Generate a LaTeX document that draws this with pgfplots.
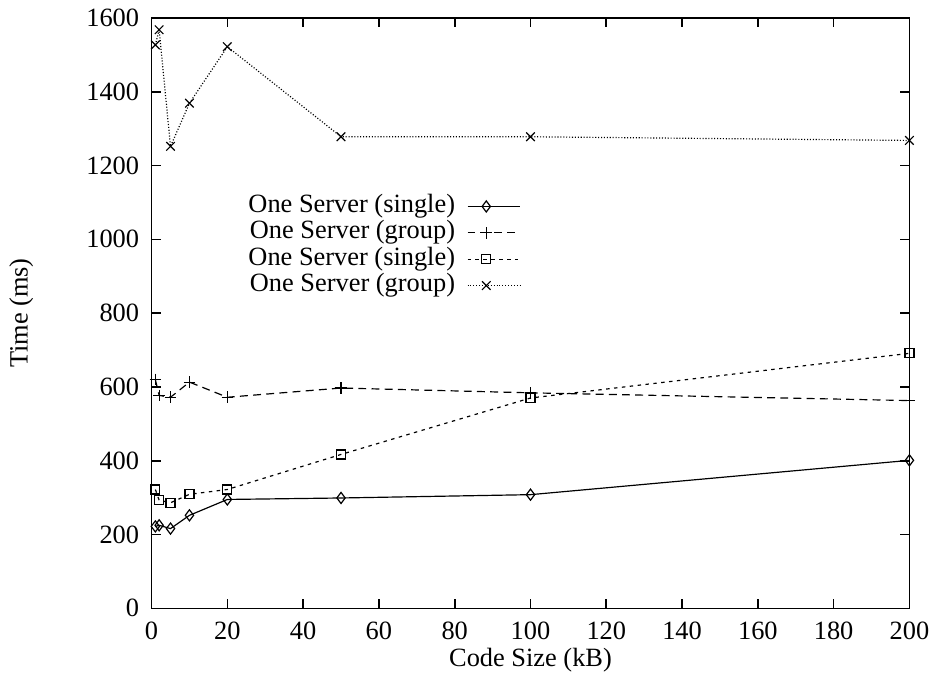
\documentclass[border=0pt]{standalone}
\usepackage{fontspec}
\setmainfont{Liberation Serif}
\usepackage{pgfplots}
\pgfplotsset{compat=1.18}
\begin{document}
\begin{tikzpicture}
\begin{axis}[
  scale only axis,
  width=287.3pt, height=223.8pt,
  xmin=0, xmax=200, ymin=0, ymax=1600,
  xtick={0,20,...,200}, ytick={0,200,...,1600},
  xtick pos=both, ytick pos=both,
  xticklabel pos=left, yticklabel pos=left,
  tick align=inside,
  major tick length=3.5pt,
  minor tick num=0,
  axis line style={line width=0.6pt},
  every tick/.style={line width=0.6pt, black},
  /pgf/number format/assume math mode=true,
  /pgf/number format/1000 sep={},
  xticklabel style={yshift=-1.5pt},
  yticklabel style={xshift=-1.2pt},
  xlabel={Code Size (kB)},
  ylabel={Time (ms)},
  xlabel style={at={(rel axis cs:0.5,-0.088)}, anchor=center},
  ylabel style={at={(rel axis cs:-0.172,0.5)}, anchor=center},
  clip=false,
  legend plot pos=right,
  legend cell align=right,
  legend style={draw=none, fill=none, at={(rel axis cs:0.487,0.703)}, anchor=north east,
    inner sep=0pt, outer sep=0pt, row sep=0pt, column sep=4.5pt,
    nodes={inner sep=0pt, text height=7.2pt, text depth=2.8pt}},
  legend image code/.code={\draw[mark repeat=2,mark phase=2] plot coordinates {(0cm,0cm) (0.25cm,0cm) (0.7cm,0cm)};},
  every axis plot/.append style={line width=0.45pt, black},
]
\addplot[mark=diamond, mark size=2.1pt, mark options={solid}] coordinates {
  (1,222) (2,225) (5,216) (10,252) (20,295) (50,299) (100,308) (200,401)};
\addlegendentry{One Server (single)}
\addplot[mark=+, mark size=2.2pt, mark options={solid}, dash pattern=on 3pt off 2pt] coordinates {
  (1,620) (2,577) (5,572) (10,613) (20,572) (50,597) (100,584) (200,563)};
\addlegendentry{One Server (group)}
\addplot[mark=square, mark size=1.7pt, mark options={solid}, dash pattern=on 1.3pt off 1.7pt] coordinates {
  (1,322) (2,293) (5,286) (10,309) (20,322) (50,417) (100,570) (200,691)};
\addlegendentry{One Server (single)}
\addplot[mark=x, mark size=2.3pt, mark options={solid}, dash pattern=on 0.4pt off 0.7pt] coordinates {
  (1,1527) (2,1568) (5,1252) (10,1369) (20,1522) (50,1278) (100,1278) (200,1268)};
\addlegendentry{One Server (group)}
\coordinate (sw) at (rel axis cs:-0.2,-0.1166);
\coordinate (ne) at (rel axis cs:1.03,1.0304);
\end{axis}
\path (sw) (ne);
\end{tikzpicture}
\end{document}
